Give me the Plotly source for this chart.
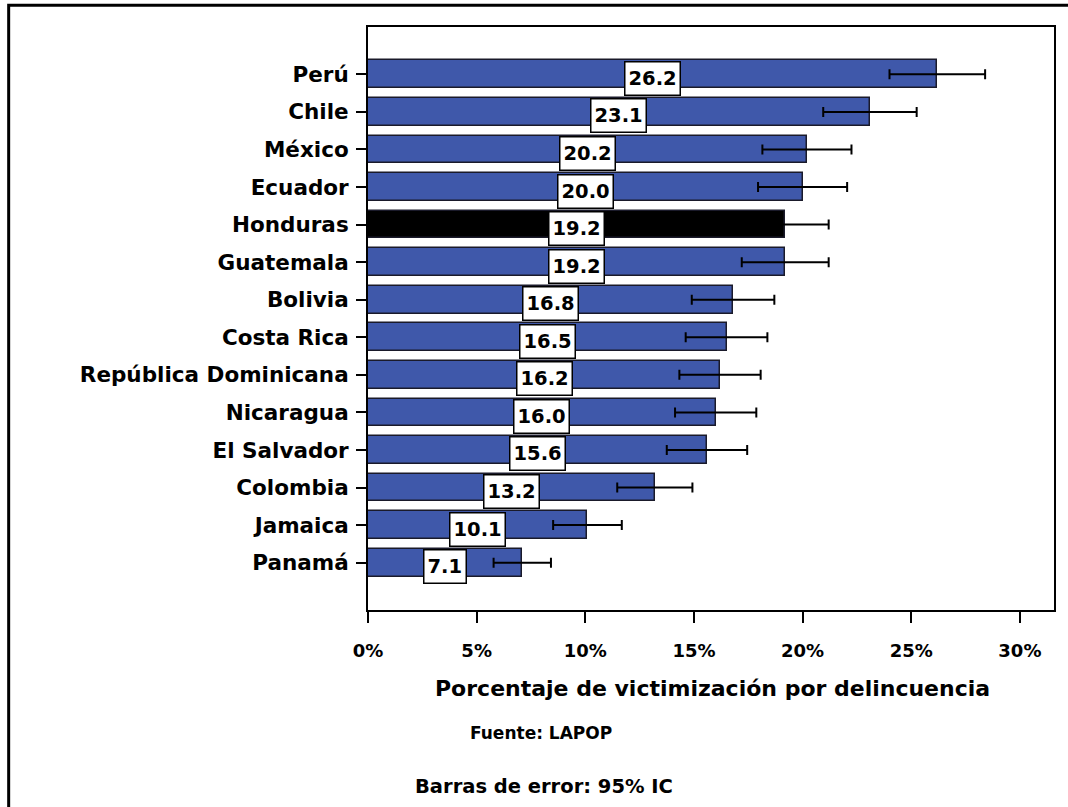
import plotly.graph_objects as go

countries = ["Perú", "Chile", "México", "Ecuador", "Honduras", "Guatemala", "Bolivia",
             "Costa Rica", "República Dominicana", "Nicaragua", "El Salvador", "Colombia",
             "Jamaica", "Panamá"]
values = [26.2, 23.1, 20.2, 20.0, 19.2, 19.2, 16.8, 16.5, 16.2, 16.0, 15.6, 13.2, 10.1, 7.1]
errors = [2.2, 2.15, 2.05, 2.05, 2.0, 2.0, 1.9, 1.88, 1.87, 1.87, 1.85, 1.73, 1.58, 1.32]
highlight = "Honduras"
x_ticks = [0, 5, 10, 15, 20, 25, 30]
x_ticklabels = ["0%", "5%", "10%", "15%", "20%", "25%", "30%"]

FONT = "DejaVu Sans, Arial Black, sans-serif"
BLUE = "#3F58AA"
colors = ["#000000" if c == highlight else BLUE for c in countries]

fig = go.Figure()
fig.add_trace(go.Bar(
    x=values, y=countries, orientation="h", width=0.74,
    marker=dict(color=colors, line=dict(color="#1a1a2a", width=1.5)),
    error_x=dict(type="data", array=errors, visible=True, color="#000000",
                 thickness=2, width=5),
    hoverinfo="skip",
))

for c, v in zip(countries, values):
    fig.add_annotation(
        x=v / 2, y=c, xref="x", yref="y", text=f"{v:.1f}", showarrow=False,
        yshift=-4, bgcolor="white", bordercolor="black", borderwidth=1.5,
        borderpad=3, height=26,
        font=dict(family=FONT, size=19.5, color="black", weight="bold"),
    )

for txt, xp, yp, sz in [
    ("Porcentaje de victimización por delincuencia", 0.502, -0.1354, 22),
    ("Fuente: LAPOP", 0.252, -0.211, 17),
    ("Barras de error: 95% IC", 0.256, -0.3035, 19.5),
]:
    fig.add_annotation(x=xp, y=yp, xref="paper", yref="paper", text=txt,
                       showarrow=False, xanchor="center", yanchor="middle",
                       font=dict(family=FONT, size=sz, color="black", weight="bold"))

# outer frame
fig.add_shape(type="rect", xref="paper", yref="paper",
              x0=-0.5238, y0=-0.36, x1=1.03, y1=1.0372,
              line=dict(color="black", width=3), fillcolor="rgba(0,0,0,0)", layer="above")

fig.update_layout(
    width=1068, height=807,
    margin=dict(l=367.5, r=12.3, t=26.7, b=197),
    paper_bgcolor="white", plot_bgcolor="white",
    showlegend=False, bargap=0,
    font=dict(family=FONT, color="black", weight="bold"),
)
fig.update_xaxes(
    range=[0, 31.57], tickvals=x_ticks, ticktext=x_ticklabels,
    showgrid=False, zeroline=False, showline=True, linecolor="black", linewidth=2,
    mirror=True, ticks="outside", ticklen=11, tickwidth=2, tickcolor="black",
    tickfont=dict(family=FONT, size=18, color="black", weight="bold"),
    ticklabelstandoff=12,
)
fig.update_yaxes(
    categoryorder="array", categoryarray=countries, range=[14.26, -1.26],
    showgrid=False, zeroline=False, showline=True, linecolor="black", linewidth=2,
    mirror=True, ticks="outside", ticklen=10, tickwidth=1.5, tickcolor="black",
    tickfont=dict(family=FONT, size=21.5, color="black", weight="bold"),
    ticklabelstandoff=3,
)

fig.write_html("out.html", config={"displayModeBar": False},
               post_script="document.body.style.margin='0px';")
